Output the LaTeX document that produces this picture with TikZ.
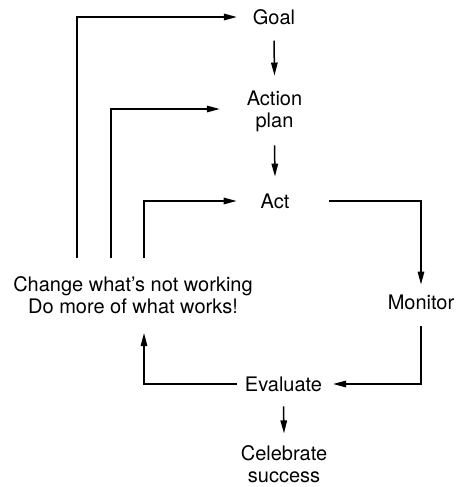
\documentclass[tikz,border=0pt]{standalone}
\usepackage{fontspec}
\setmainfont{TeX Gyre Heros}
\usetikzlibrary{arrows.meta}
\begin{document}
\begin{tikzpicture}[x=1pt,y=-1pt,
  lbl/.style={font=\fontsize{20}{22}\selectfont, inner sep=0pt, outer sep=0pt, align=center},
  arr/.style={line width=1.5pt, -{Triangle[length=13pt,width=6.5pt]}}]
\useasboundingbox (0,0) rectangle (456,487);
\node[lbl] (goal) at (274,17) {Goal};
\node[lbl] (plan) at (274.5,111) {Action\\plan};
\node[lbl] (act) at (275,201) {Act};
\node[lbl] (mon) at (421,302) {Monitor};
\node[lbl] (eval) at (283.5,384) {Evaluate};
\node[lbl] (cel) at (284,464) {Celebrate\\success};
\node[lbl] (chg) at (133,295) {Change what’s not working\\Do more of what works!};
\coordinate (s1) at (77,258);
\coordinate (s2) at (111,258);
\coordinate (s3) at (144,258);
\coordinate (e3) at (144,333);
\draw[arr] (s1) |- ([xshift=-16pt]goal.west);
\draw[arr] (s2) |- ([xshift=-27pt,yshift=2pt]plan.west);
\draw[arr] (s3) |- ([xshift=-24pt]act.west);
\draw[arr] ([yshift=-16pt]goal.south) -- ([yshift=15pt]plan.north);
\draw[arr] ([yshift=-14pt]plan.south) -- ([yshift=17pt]act.north);
\draw[arr] ([xshift=40pt]act.east) -| ([yshift=10pt]mon.north);
\draw[arr] ([yshift=-17pt]mon.south) |- ([xshift=11pt]eval.east);
\draw[arr] ([xshift=-8pt]eval.west) -| (e3);
\draw[arr] ([yshift=-15pt]eval.south) -- ([yshift=12pt]cel.north);
\end{tikzpicture}
\end{document}
